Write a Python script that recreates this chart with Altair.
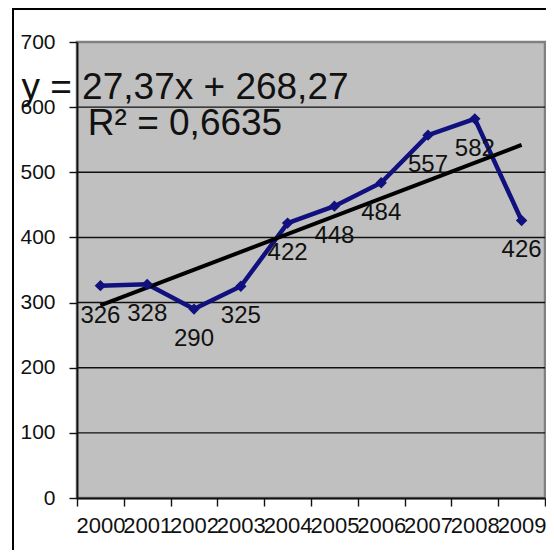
import altair as alt
import pandas as pd

# ---- data ----
years = ["2000", "2001", "2002", "2003", "2004", "2005", "2006", "2007", "2008", "2009"]
values = [326, 328, 290, 325, 422, 448, 484, 557, 582, 426]
y_ticks = [0, 100, 200, 300, 400, 500, 600, 700]
grid_values = [100, 200, 300, 400, 500, 600]
equation_lines = ["y = 27,37x + 268,27", "R² = 0,6635"]

FONT = "Liberation Sans"
NAVY = "#10107e"
W, H = 468, 456

df = pd.DataFrame({"year": years, "k": list(range(1, len(years) + 1)), "value": values})
df["xpos"] = df["k"] - 0.5

xscale = alt.Scale(domain=[0, len(years)], nice=False, zero=False)
yscale = alt.Scale(domain=[0, 700], nice=False)

label_expr = "[" + ",".join("'%s'" % y for y in years) + "][datum.value] || ''"

x_axis = alt.Axis(
    values=list(range(len(years) + 1)),
    labelExpr=label_expr,
    labelOffset=W / len(years) / 2,
    labelOverlap=False,
    labelFlush=False,
    labelBound=False,
    labelFontSize=22,
    labelPadding=9,
    title=None,
    grid=False,
)
y_axis = alt.Axis(values=y_ticks, labelFontSize=21, labelPadding=14, title=None, grid=False,
                  labelOverlap=False, labelFlush=False, labelBound=False)

base = alt.Chart(df)

grid = alt.Chart(pd.DataFrame({"g": grid_values})).mark_rule(color="#101010", strokeWidth=1.4).encode(
    y=alt.Y("g:Q", scale=yscale, axis=y_axis)
)

line = base.mark_line(color=NAVY, strokeWidth=4.5).encode(
    x=alt.X("xpos:Q", scale=xscale, axis=x_axis),
    y=alt.Y("value:Q", scale=yscale, axis=y_axis),
)

trend = base.transform_regression("k", "value").transform_calculate(
    xpos="datum.k - 0.5"
).mark_line(color="#000000", strokeWidth=4).encode(
    x=alt.X("xpos:Q", scale=xscale, axis=x_axis),
    y=alt.Y("value:Q", scale=yscale, axis=y_axis),
)

points = base.mark_point(shape="diamond", filled=True, size=130, color=NAVY, opacity=1).encode(
    x=alt.X("xpos:Q", scale=xscale, axis=x_axis),
    y=alt.Y("value:Q", scale=yscale, axis=y_axis),
)

labels = base.mark_text(font=FONT, fontSize=24, color="#111111", baseline="middle", dy=30).encode(
    x=alt.X("xpos:Q", scale=xscale, axis=x_axis),
    y=alt.Y("value:Q", scale=yscale, axis=y_axis),
    text=alt.Text("value:Q"),
)

eq = alt.Chart(pd.DataFrame({"t": ["\n".join(equation_lines)]})).mark_text(
    font=FONT, fontSize=37, color="#111111", align="center", baseline="middle",
    lineBreak="\n", lineHeight=36,
).encode(
    x=alt.value(108), y=alt.value(46), text="t:N"
)

frame_left = alt.Chart(pd.DataFrame({"a": [0]})).mark_rule(color="#000000", strokeWidth=2).encode(
    x=alt.value(-64), y=alt.value(-34), y2=alt.value(H + 60)
)
frame_top = alt.Chart(pd.DataFrame({"a": [0]})).mark_rule(color="#000000", strokeWidth=2).encode(
    x=alt.value(-64), x2=alt.value(W + 20), y=alt.value(-33)
)

chart = alt.layer(grid, line, trend, points, labels, eq, frame_left, frame_top).properties(
    width=W,
    height=H,
    autosize=alt.AutoSizeParams(type="none"),
    padding={"left": 69, "top": 34, "right": 1, "bottom": 52},
    background="#ffffff",
).configure_view(
    fill="#c0c0c0", stroke="#808080", strokeWidth=2.5
).configure_axis(
    domainColor="#111111", domainWidth=1.8, tickColor="#111111", tickWidth=1.4, tickSize=8,
    labelFont=FONT, labelColor="#111111",
)

chart.save("out.html", embed_options={"renderer": "svg", "actions": False})
